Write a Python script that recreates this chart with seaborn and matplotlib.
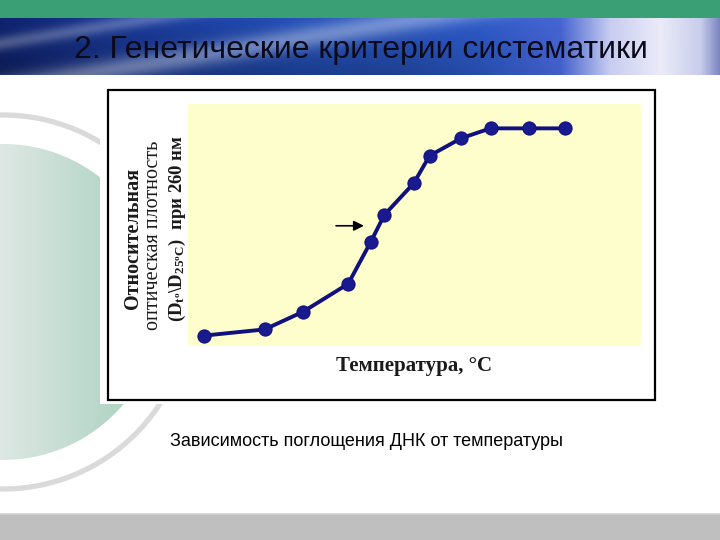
import numpy as np
import matplotlib
matplotlib.use("Agg")
import matplotlib.pyplot as plt
import seaborn as sns
from matplotlib.patches import Rectangle, Circle

# Slide texts
slide_title = "2. Генетические критерии систематики"
caption = "Зависимость поглощения ДНК от температуры"
ylabel_lines = ["Относительная", "оптическая плотность", r"(D$_{\mathrm{t^o}}$\D$_{\mathrm{25^oC}}$)  при 260 нм"]
xlabel = "Температура, °C"

# Melting curve
temperature = [20, 33.5, 42, 52, 57, 60, 66.5, 70, 77, 83.5, 92, 100]
rel_density = [1.000, 1.012, 1.046, 1.100, 1.181, 1.233, 1.294, 1.347, 1.381, 1.400, 1.400, 1.400]

# arrow pointing at the melting point
arrow_from = (48.7, 1.212)
arrow_to = (56.1, 1.212)

sns.set_theme(style="white")
plt.rcParams["font.family"] = ["Liberation Sans", "DejaVu Sans"]
plt.rcParams["mathtext.fontset"] = "custom"
plt.rcParams["mathtext.rm"] = "Liberation Serif:bold"
plt.rcParams["mathtext.it"] = "Liberation Serif:bold"
plt.rcParams["mathtext.bf"] = "Liberation Serif:bold"

fig = plt.figure(figsize=(7.2, 5.4), dpi=100)
fig.patch.set_facecolor("white")

# background layer in pixel coordinates
bg = fig.add_axes([0, 0, 1, 1], zorder=0)
bg.set_xlim(0, 720)
bg.set_ylim(540, 0)
bg.axis("off")

# green strip on top
bg.add_patch(Rectangle((0, 0), 720, 18, color="#3a9f74", lw=0))

# blue banner
W, H = 720, 57
xx, yy = np.meshgrid(np.arange(W), np.arange(H))
stops = [0, 120, 300, 480, 560, 610, 660, 700, 720]
cols = np.array([[15, 35, 110], [25, 55, 150], [35, 80, 185], [45, 90, 200], [70, 100, 210],
                 [200, 205, 240], [235, 235, 248], [200, 205, 235], [120, 130, 190]]) / 255
banner = np.stack([np.interp(xx, stops, cols[:, c]) for c in range(3)], axis=-1)
streak = 0.35 * np.exp(-((xx + 6 * yy - 420) / 70) ** 2) + 0.25 * np.exp(-((xx + 6 * yy - 150) / 45) ** 2)
shade = 1 - 0.25 * (yy / H) * np.clip((600 - xx) / 200, 0, 1)
banner = banner * shade[..., None]
banner = banner + (1 - banner) * streak[..., None]
bg.imshow(np.clip(banner, 0, 1), extent=(0, 720, 75, 18), aspect="auto", zorder=1)
bg.text(74, 50, slide_title, fontsize=23, color="#0a0a1a", va="center", ha="left", zorder=2)

# pale green disc with grey ring on the left
grad = np.linspace(0, 1, 200)[None, :]
g_cols = np.array([[222, 232, 228], [160, 205, 185]]) / 255
disc_img = np.stack([np.interp(grad, [0, 1], g_cols[:, c]) for c in range(3)], axis=-1)
disc_img = np.repeat(disc_img, 10, axis=0)
im = bg.imshow(disc_img, extent=(0, 165, 470, 140), aspect="auto", zorder=1)
disc = Circle((3, 302), 158, transform=bg.transData, facecolor="none", edgecolor="none")
bg.add_patch(disc)
im.set_clip_path(disc)
bg.add_patch(Circle((3, 302), 187, fill=False, edgecolor="#dadada", lw=3.8, zorder=1))

# grey strip at the bottom
bg.add_patch(Rectangle((0, 513), 720, 27, color="#bfbfbf", lw=0, zorder=1))
bg.add_patch(Rectangle((0, 513), 720, 2, color="#d2d2d2", lw=0, zorder=1))

# white picture with black frame
bg.add_patch(Rectangle((100, 84), 562, 320, facecolor="white", edgecolor="none", zorder=3))
bg.add_patch(Rectangle((108, 90), 547, 310, facecolor="none", edgecolor="black", lw=1.6, zorder=4))

# axis labels of the picture
bg.text(133, 238, ylabel_lines[0], rotation=90, ha="center", va="center", fontsize=14.5,
        family="Liberation Serif", fontweight="bold", color="#1a1a1a", zorder=5)
bg.text(153, 235, ylabel_lines[1], rotation=90, ha="center", va="center", fontsize=14.5,
        family="Liberation Serif", color="#1a1a1a", zorder=5)
bg.text(177, 229, ylabel_lines[2], rotation=90, ha="center", va="center", fontsize=13.5,
        family="Liberation Serif", fontweight="bold", color="#1a1a1a", zorder=5)
bg.text(414, 366, xlabel, ha="center", va="center", fontsize=15,
        family="Liberation Serif", fontweight="bold", color="#1a1a1a", zorder=5)

bg.text(170, 442, caption, ha="left", va="center", fontsize=13, color="black", zorder=5)

# the plot itself
ax = fig.add_axes([188 / 720, 1 - 346 / 540, 453 / 720, 242 / 540], zorder=2)
ax.set_facecolor("#fefdcc")
sns.lineplot(x=temperature, y=rel_density, ax=ax, color="#10107f", linewidth=2.8,
             marker="o", markersize=9.5, markerfacecolor="#1a1a90", markeredgecolor="#10107f")
ax.annotate("", xy=arrow_to, xytext=arrow_from,
            arrowprops=dict(arrowstyle="-|>", color="black", lw=1.2, mutation_scale=15))
ax.set_xlim(16.55, 116.8)
ax.set_ylim(0.980, 1.447)
ax.set_xticks([])
ax.set_yticks([])
ax.set_xlabel("")
ax.set_ylabel("")
for s in ax.spines.values():
    s.set_visible(False)

fig.savefig("out.png", dpi=100)
